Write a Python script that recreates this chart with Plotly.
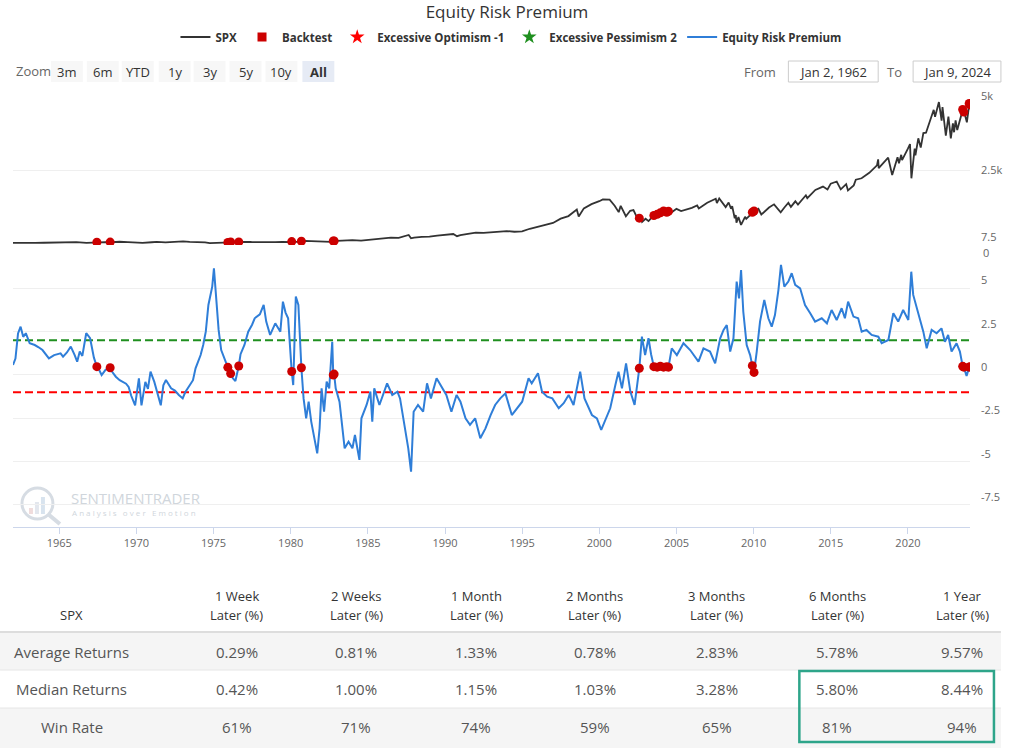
import plotly.graph_objects as go

# ---------------- canvas / plot-area geometry ----------------
W, H = 1014, 748
ML, MR, MT, MB = 13, 42, 96, 221
PW = W - ML - MR
PH = H - MT - MB
SPLIT_PX = 245  # pixel row where the two panels meet


def px(x):
    return (x - ML) / PW


def py(y):
    return (H - MB - y) / PH


FONT = "Open Sans"

# ---------------- data ----------------
title_text = "Equity Risk Premium"
x_start, x_end = "1962-01-02", "2024-01-09"
year_ticks = [1965, 1970, 1975, 1980, 1985, 1990, 1995, 2000, 2005, 2010, 2015, 2020]

spx_dates = [
    "1962-01-02", "1962-03-15", "1962-06-26", "1962-09-15", "1962-12-31", "1963-06-15", "1963-12-31",
    "1964-06-15", "1964-12-31", "1965-06-28", "1965-12-31", "1966-02-09", "1966-10-07", "1966-12-30",
    "1967-06-15", "1967-09-25", "1967-12-29", "1968-03-05", "1968-11-29", "1969-06-15", "1969-12-31",
    "1970-05-26", "1970-12-31", "1971-04-28", "1971-11-23", "1972-06-15", "1973-01-11", "1973-06-15",
    "1973-12-31", "1974-06-15", "1974-10-03", "1974-12-31", "1975-07-15", "1975-12-31", "1976-06-15",
    "1976-12-31", "1977-06-15", "1977-12-30", "1978-03-06", "1978-09-12", "1978-12-29", "1979-06-15",
    "1979-12-31", "1980-03-27", "1980-11-28", "1981-06-15", "1981-09-25", "1981-12-31", "1982-08-12",
    "1982-12-31", "1983-10-10", "1983-12-30", "1984-07-24", "1984-12-31", "1985-06-28", "1985-12-31",
    "1986-06-30", "1986-12-31", "1987-08-25", "1987-10-19", "1987-12-31", "1988-06-30", "1988-12-30",
    "1989-06-30", "1989-12-29", "1990-07-16", "1990-10-11", "1990-12-31", "1991-06-28", "1991-12-31",
    "1992-06-30", "1992-12-31", "1993-06-30", "1993-12-31", "1994-06-30", "1994-12-30", "1995-06-30",
    "1995-12-29", "1996-06-28", "1996-12-31", "1997-06-30", "1997-12-31", "1998-07-17", "1998-08-31",
    "1998-12-31", "1999-06-30", "1999-12-31", "2000-03-24", "2000-09-01", "2000-12-29", "2001-04-04",
    "2001-05-21", "2001-09-21", "2001-12-31", "2002-03-19", "2002-07-23", "2002-08-22", "2002-10-09",
    "2002-12-31", "2003-03-11", "2003-06-30", "2003-12-31", "2004-06-30", "2004-08-12", "2004-12-31",
    "2005-04-20", "2005-12-30", "2006-05-05", "2006-06-13", "2006-12-29", "2007-07-19", "2007-08-15",
    "2007-10-09", "2008-03-10", "2008-05-19", "2008-07-15", "2008-08-11", "2008-10-10", "2008-11-04",
    "2008-11-20", "2009-01-06", "2009-03-09", "2009-06-12", "2009-07-10", "2009-12-31", "2010-04-23",
    "2010-07-02", "2010-12-31", "2011-04-29", "2011-10-03", "2011-12-30", "2012-04-02", "2012-06-01",
    "2012-09-14", "2012-11-15", "2013-05-21", "2013-06-24", "2013-12-31", "2014-06-30", "2014-10-15",
    "2014-12-31", "2015-05-21", "2015-08-25", "2015-12-31", "2016-02-11", "2016-06-27", "2016-08-15",
    "2016-12-30", "2017-06-30", "2017-12-29", "2018-01-26", "2018-02-08", "2018-09-20", "2018-12-24",
    "2019-04-30", "2019-06-03", "2019-07-26", "2019-08-15", "2019-12-31", "2020-02-19", "2020-03-23",
    "2020-06-08", "2020-06-26", "2020-09-02", "2020-10-30", "2020-12-31", "2021-03-04", "2021-06-30",
    "2021-09-02", "2021-10-04", "2021-12-31", "2022-01-03", "2022-03-08", "2022-03-29", "2022-06-16",
    "2022-08-16", "2022-10-12", "2022-11-30", "2022-12-28", "2023-02-02", "2023-03-13", "2023-07-31",
    "2023-10-27", "2023-12-28", "2024-01-05", "2024-01-09",
]
spx_values = [
    70.9, 70.0, 52.3, 58.0, 63.1, 69.0, 75.0,
    81.0, 84.8, 81.6, 92.4, 94.0, 73.2, 80.3,
    91.0, 97.6, 96.5, 87.7, 108.4, 98.0, 92.0,
    69.3, 92.2, 104.8, 90.2, 107.0, 120.2, 104.0,
    97.6, 86.0, 62.3, 68.6, 95.6, 90.2, 104.0,
    107.5, 100.0, 95.1, 86.9, 106.9, 96.1, 102.0,
    107.9, 98.2, 140.5, 132.0, 112.8, 122.6, 102.4,
    140.6, 172.7, 164.9, 147.8, 167.2, 191.9, 211.3,
    250.8, 242.2, 336.8, 224.8, 247.1, 273.5, 277.7,
    318.0, 353.4, 368.9, 295.5, 330.2, 371.2, 417.1,
    408.1, 435.7, 450.5, 466.5, 444.3, 459.3, 544.8,
    615.9, 670.6, 740.7, 885.1, 970.4, 1186.8, 957.3,
    1229.2, 1372.7, 1469.3, 1527.5, 1520.8, 1320.3, 1103.3,
    1312.8, 965.8, 1148.1, 1170.3, 797.7, 962.7, 776.8,
    879.8, 800.7, 974.5, 1111.9, 1140.8, 1063.2, 1211.9,
    1137.5, 1248.3, 1325.8, 1223.7, 1418.3, 1553.1, 1406.7,
    1565.2, 1273.4, 1426.6, 1214.9, 1305.3, 899.2, 1005.8,
    752.4, 934.7, 676.5, 946.2, 879.1, 1115.1, 1217.3,
    1022.6, 1257.6, 1363.6, 1099.2, 1257.6, 1419.0, 1278.0,
    1465.8, 1353.3, 1669.2, 1573.1, 1848.4, 1960.2, 1862.5,
    2058.9, 2130.8, 1867.6, 2043.9, 1829.1, 2000.5, 2190.2,
    2238.8, 2423.4, 2673.6, 2872.9, 2581.0, 2930.8, 2351.1,
    2945.8, 2744.5, 3025.9, 2847.6, 3230.8, 3386.2, 2237.4,
    3232.4, 3009.0, 3580.8, 3270.0, 3756.1, 3768.5, 4297.5,
    4536.9, 4300.5, 4766.2, 4796.6, 4170.7, 4631.6, 3666.8,
    4305.2, 3577.0, 4080.1, 3783.2, 4179.8, 3855.8, 4589.0,
    4117.4, 4783.4, 4697.2, 4756.5,
]

erp_dates = [
    "1962-01-02", "1962-03-01", "1962-05-01", "1962-07-01", "1962-09-01", "1962-11-01", "1963-02-01",
    "1963-06-01", "1963-09-01", "1963-12-01", "1964-05-01", "1964-09-01", "1965-02-01", "1965-04-01",
    "1965-07-01", "1965-10-01", "1966-01-01", "1966-03-01", "1966-05-01", "1966-07-01", "1966-10-01",
    "1967-01-01", "1967-04-01", "1967-06-10", "1967-08-01", "1967-10-01", "1968-01-01", "1968-04-20",
    "1968-06-01", "1968-09-01", "1968-12-01", "1969-02-01", "1969-05-01", "1969-07-01", "1969-09-01",
    "1969-12-01", "1970-03-01", "1970-05-01", "1970-08-01", "1970-10-01", "1970-12-01", "1971-03-01",
    "1971-05-01", "1971-08-01", "1971-10-01", "1971-12-01", "1972-04-01", "1972-07-01", "1972-10-01",
    "1973-01-01", "1973-03-01", "1973-07-01", "1973-09-01", "1973-11-01", "1974-03-01", "1974-05-01",
    "1974-07-01", "1974-09-01", "1974-12-01", "1975-01-10", "1975-02-01", "1975-03-01", "1975-05-01",
    "1975-07-01", "1975-09-01", "1975-12-05", "1976-02-10", "1976-04-01", "1976-06-01", "1976-08-20",
    "1976-10-01", "1977-01-01", "1977-04-01", "1977-07-01", "1977-09-01", "1978-01-01", "1978-04-01",
    "1978-06-01", "1978-09-01", "1979-01-01", "1979-05-01", "1979-07-01", "1979-09-01", "1979-11-01",
    "1980-01-25", "1980-03-01", "1980-05-01", "1980-07-01", "1980-09-10", "1980-11-01", "1981-01-01",
    "1981-03-01", "1981-05-01", "1981-07-01", "1981-09-20", "1981-11-15", "1982-01-01", "1982-03-01",
    "1982-05-01", "1982-07-01", "1982-09-10", "1982-10-05", "1982-10-25", "1982-12-01", "1983-03-01",
    "1983-07-01", "1983-10-01", "1984-01-01", "1984-03-01", "1984-06-15", "1984-08-01", "1984-12-01",
    "1985-03-01", "1985-04-15", "1985-06-01", "1985-10-01", "1986-04-01", "1986-08-01", "1986-12-01",
    "1987-02-01", "1987-06-01", "1987-08-15", "1987-10-20", "1987-12-20", "1988-04-01", "1988-08-01",
    "1988-11-01", "1989-02-01", "1989-06-15", "1989-10-01", "1990-02-01", "1990-06-01", "1990-10-01",
    "1991-01-01", "1991-05-01", "1991-08-15", "1991-12-15", "1992-04-15", "1992-08-15", "1992-12-15",
    "1993-04-01", "1993-08-01", "1993-12-01", "1994-05-01", "1994-09-01", "1995-01-01", "1995-06-01",
    "1995-08-15", "1996-01-10", "1996-04-15", "1996-08-15", "1996-12-15", "1997-05-15", "1997-09-10",
    "1998-01-05", "1998-05-01", "1998-10-05", "1999-01-15", "1999-07-10", "1999-11-05", "2000-02-15",
    "2000-05-20", "2000-09-15", "2001-01-15", "2001-03-30", "2001-06-20", "2001-09-25", "2002-01-05",
    "2002-04-15", "2002-08-05", "2002-10-05", "2002-12-20", "2003-03-10", "2003-05-10", "2003-07-15",
    "2003-10-01", "2003-12-15", "2004-03-01", "2004-05-15", "2004-06-25", "2004-09-10", "2005-01-10",
    "2005-06-15", "2005-11-20", "2006-06-05", "2006-10-01", "2007-03-05", "2007-07-05", "2007-11-01",
    "2008-01-20", "2008-04-05", "2008-06-25", "2008-09-10", "2008-11-25", "2009-01-20", "2009-03-09",
    "2009-05-01", "2009-07-20", "2009-10-10", "2009-12-01", "2010-01-10", "2010-03-15", "2010-06-01",
    "2010-09-10", "2010-12-15", "2011-03-05", "2011-05-20", "2011-08-10", "2011-10-10", "2011-12-28",
    "2012-04-01", "2012-06-20", "2012-09-10", "2013-01-05", "2013-05-01", "2013-09-01", "2013-12-25",
    "2014-06-01", "2014-10-01", "2015-01-20", "2015-05-20", "2015-09-15", "2015-12-01", "2016-02-15",
    "2016-06-20", "2016-10-10", "2017-01-01", "2017-04-25", "2017-08-25", "2018-01-30", "2018-04-20",
    "2018-09-25", "2019-01-20", "2019-05-15", "2019-09-10", "2020-01-10", "2020-03-20", "2020-05-05",
    "2020-09-01", "2020-12-30", "2021-03-20", "2021-07-15", "2021-11-10", "2022-03-05", "2022-05-25",
    "2022-08-10", "2022-10-30", "2023-02-25", "2023-05-15", "2023-07-20", "2023-08-15", "2023-10-20",
    "2023-12-20", "2024-01-09",
]
erp_values = [
    0.58, 0.95, 2.40, 2.79, 2.20, 2.41, 1.83,
    1.73, 1.60, 1.44, 0.96, 1.15, 1.25, 1.06,
    1.30, 1.64, 1.15, 0.77, 1.35, 1.10, 2.41,
    2.12, 1.00, 0.48, 0.30, 0.00, 0.30, 0.42,
    0.20, -0.10, -0.30, -0.40, -0.50, -0.69, -1.20,
    -1.75, -0.19, -1.75, -0.40, -0.80, 0.19, -0.40,
    -0.90, -1.75, -0.60, -0.29, -0.77, -0.90, -1.15,
    -1.35, -1.00, -0.58, -0.30, 0.38, 1.15, 1.73,
    2.50, 4.04, 5.10, 6.15, 5.50, 4.90, 2.60,
    1.44, 1.00, 0.44, 0.08, -0.19, -0.35, 0.52,
    1.20, 1.73, 2.50, 2.90, 3.27, 3.50, 4.04,
    3.08, 2.31, 2.98, 2.50, 4.23, 3.60, 3.27,
    0.20, -0.58, 4.52, 4.04, 0.42, -1.35, -2.50,
    -1.54, -2.69, -3.46, -4.52, -3.08, -0.77, -2.12,
    -0.38, -0.77, 1.92, 0.00, 0.05, -0.77, -1.54,
    -4.23, -3.85, -4.23, -3.46, -4.90, -2.50, -1.73,
    -0.96, -2.69, -0.77, -1.73, -0.48, -1.15, -0.96,
    -1.35, -3.27, -4.23, -5.58, -2.12, -1.73, -2.12,
    -0.48, -1.35, -0.19, -0.67, -1.15, -2.12, -1.15,
    -1.54, -2.50, -2.88, -2.50, -3.65, -3.08, -2.31,
    -1.73, -1.35, -1.06, -2.31, -1.92, -1.54, -0.19,
    -0.48, 0.10, -0.96, -1.25, -1.35, -1.92, -1.63,
    -1.15, -1.73, 0.19, -1.35, -2.31, -2.50, -3.17,
    -2.60, -1.92, -0.58, 0.19, -0.77, 0.67, -0.96,
    -1.73, 0.39, 2.21, 1.15, 2.12, 1.20, 0.48,
    0.45, 0.50, 0.45, 0.48, 0.45, 1.54, 1.15,
    1.83, 1.44, 0.77, 1.54, 1.35, 0.67, 2.12,
    2.60, 2.88, 1.35, 2.12, 5.39, 4.42, 6.06,
    3.65, 1.73, 1.15, 0.54, 0.15, 1.35, 3.08,
    4.33, 3.27, 2.79, 3.46, 4.90, 6.35, 5.10,
    5.39, 5.87, 5.20, 5.00, 4.04, 3.56, 3.08,
    3.27, 2.98, 3.75, 3.17, 3.85, 3.27, 4.23,
    3.37, 3.27, 2.50, 2.60, 2.31, 2.21, 1.83,
    2.02, 3.56, 3.08, 3.75, 3.17, 5.96, 4.62,
    3.56, 2.50, 1.54, 2.60, 2.41, 2.69, 1.92,
    2.31, 1.35, 1.83, 1.35, 0.50, 0.45, -0.06,
    0.45, 0.48,
]

backtest_dates = [
    "1967-06-10", "1968-04-20", "1975-12-05", "1976-02-10", "1976-08-20", "1980-01-25", "1980-09-10",
    "1982-10-05", "1982-10-25", "2002-08-05", "2003-07-15", "2003-10-01", "2003-12-15", "2004-03-01",
    "2004-05-15", "2004-06-25", "2009-12-01", "2010-01-10", "2023-07-20", "2023-08-15", "2023-12-20",
    "2024-01-05",
]
backtest_spx = [
    91, 97, 88, 100, 104, 114, 125,
    134, 136, 900, 990, 1030, 1080, 1140,
    1100, 1130, 1100, 1140, 4550, 4460, 4750,
    4700,
]
backtest_erp = [
    0.48, 0.42, 0.44, 0.08, 0.52, 0.20, 0.42,
    0.00, 0.05, 0.39, 0.48, 0.45, 0.50, 0.45,
    0.48, 0.45, 0.54, 0.15, 0.50, 0.45, 0.45,
    0.48,
]

optimism_level = -1
pessimism_level = 2

spx_tick_vals = [2500, 5000]
spx_tick_text = ["2.5k", "5k"]
spx_zero_text = "0"
erp_tick_vals = [-7.5, -5, -2.5, 0, 2.5, 5, 7.5]
erp_tick_text = ["-7.5", "-5", "-2.5", "0", "2.5", "5", "7.5"]

zoom_buttons = ["3m", "6m", "YTD", "1y", "3y", "5y", "10y", "All"]
from_label, from_value = "From", "Jan 2, 1962"
to_label, to_value = "To", "Jan 9, 2024"

table_corner = "SPX"
table_periods = ["1 Week", "2 Weeks", "1 Month", "2 Months", "3 Months", "6 Months", "1 Year"]
table_sub = "Later (%)"
row_labels = ["Average Returns", "Median Returns", "Win Rate"]
avg_returns = ["0.29%", "0.81%", "1.33%", "0.78%", "2.83%", "5.78%", "9.57%"]
median_returns = ["0.42%", "1.00%", "1.15%", "1.03%", "3.28%", "5.80%", "8.44%"]
win_rate = ["61%", "71%", "74%", "59%", "65%", "81%", "94%"]

# ---------------- colours ----------------
C_SPX = "#333333"
C_ERP = "#2f7ed8"
C_DOT = "#cc0000"
C_OPT = "#ff0000"
C_PES = "#1f8f1f"
C_GRID = "#efefef"
C_TICK = "#666666"
C_TXT = "#333333"

fig = go.Figure()

# threshold lines (lower panel)
fig.add_trace(go.Scatter(x=[x_start, x_end], y=[optimism_level, optimism_level], mode="lines",
                         line=dict(color=C_OPT, width=2, dash="8px,4px"), xaxis="x", yaxis="y2",
                         showlegend=False, hoverinfo="skip"))
fig.add_trace(go.Scatter(x=[x_start, x_end], y=[pessimism_level, pessimism_level], mode="lines",
                         line=dict(color=C_PES, width=2, dash="8px,4px"), xaxis="x", yaxis="y2",
                         showlegend=False, hoverinfo="skip"))

# SPX (upper panel)
fig.add_trace(go.Scatter(x=spx_dates, y=spx_values, mode="lines", name="SPX",
                         line=dict(color=C_SPX, width=1.8), xaxis="x", yaxis="y"))
# legend-only entries
fig.add_trace(go.Scatter(x=[None], y=[None], mode="markers", name="Backtest",
                         marker=dict(symbol="square", size=9, color=C_DOT), xaxis="x", yaxis="y"))
fig.add_trace(go.Scatter(x=[None], y=[None], mode="markers", name="Excessive Optimism -1",
                         marker=dict(symbol="star", size=11, color=C_OPT), xaxis="x", yaxis="y"))
fig.add_trace(go.Scatter(x=[None], y=[None], mode="markers", name="Excessive Pessimism 2",
                         marker=dict(symbol="star", size=11, color=C_PES), xaxis="x", yaxis="y"))
# ERP (lower panel)
fig.add_trace(go.Scatter(x=erp_dates, y=erp_values, mode="lines", name="Equity Risk Premium",
                         line=dict(color=C_ERP, width=2), xaxis="x", yaxis="y2"))
# backtest dots on both panels
fig.add_trace(go.Scatter(x=backtest_dates, y=backtest_spx, mode="markers", showlegend=False,
                         marker=dict(size=9, color=C_DOT), xaxis="x", yaxis="y"))
fig.add_trace(go.Scatter(x=backtest_dates, y=backtest_erp, mode="markers", showlegend=False,
                         marker=dict(size=9, color=C_DOT), xaxis="x", yaxis="y2"))

split = py(SPLIT_PX)
lower_top = 7.5
lower_bottom = lower_top - (H - MB - SPLIT_PX) / (43.33 / 2.5)

shapes = []
annotations = []

# ---- range selector look-alike ----
annotations.append(dict(text="Zoom", x=px(14), y=py(71), xref="paper", yref="paper", xanchor="left",
                        yanchor="middle", showarrow=False, font=dict(family=FONT, size=13, color=C_TICK)))
btn_centers = [67, 103, 138, 175, 210, 246, 282, 319]
for lab, cx in zip(zoom_buttons, btn_centers):
    sel = lab == "All"
    shapes.append(dict(type="rect", xref="paper", yref="paper", x0=px(cx - 16), x1=px(cx + 16),
                       y0=py(82), y1=py(61), fillcolor="#e6ebf5" if sel else "#f7f7f7",
                       line=dict(width=0), layer="below"))
    annotations.append(dict(text=f"<b>{lab}</b>" if sel else lab, x=px(cx), y=py(71.5), xref="paper",
                            yref="paper", xanchor="center", yanchor="middle", showarrow=False,
                            font=dict(family=FONT, size=13, color=C_TXT)))

annotations.append(dict(text=from_label, x=px(780), y=py(71.5), xref="paper", yref="paper", xanchor="right",
                        yanchor="middle", showarrow=False, font=dict(family=FONT, size=13, color=C_TICK)))
annotations.append(dict(text=to_label, x=px(906), y=py(71.5), xref="paper", yref="paper", xanchor="right",
                        yanchor="middle", showarrow=False, font=dict(family=FONT, size=13, color=C_TICK)))
for (x0, x1, txt) in [(790, 880, from_value), (915, 1003, to_value)]:
    shapes.append(dict(type="rect", xref="paper", yref="paper", x0=px(x0), x1=px(x1), y0=py(82), y1=py(61),
                       fillcolor="white", line=dict(color="#cccccc", width=1)))
    annotations.append(dict(text=txt, x=px((x0 + x1) / 2), y=py(71.5), xref="paper", yref="paper",
                            xanchor="center", yanchor="middle", showarrow=False,
                            font=dict(family=FONT, size=13, color=C_TXT)))

# ---- upper axis zero label (nudged below the lower axis' 7.5 label) ----
annotations.append(dict(text=spx_zero_text, x=1, xshift=11, y=0, yshift=-7, xref="paper", yref="y",
                        xanchor="left", yanchor="middle", showarrow=False,
                        font=dict(family=FONT, size=11, color=C_TICK)))

# ---- watermark ----
wm = "#d6dce3"
shapes.append(dict(type="circle", xref="paper", yref="paper", x0=px(22), x1=px(53), y0=py(519), y1=py(488),
                   line=dict(color=wm, width=3), layer="below"))
for (bx, top, col) in [(29, 508, "#f0dcdc"), (35, 502, "#e3e7ee"), (41, 497, "#d8e3ee")]:
    shapes.append(dict(type="rect", xref="paper", yref="paper", x0=px(bx), x1=px(bx + 4), y0=py(514),
                       y1=py(top), fillcolor=col, line=dict(width=0), layer="below"))
shapes.append(dict(type="line", xref="paper", yref="paper", x0=px(48), x1=px(60), y0=py(514), y1=py(524),
                   line=dict(color=wm, width=4), layer="below"))
annotations.append(dict(text="SENTIMENTRADER", x=px(69), y=py(498), xref="paper", yref="paper",
                        xanchor="left", yanchor="middle", showarrow=False,
                        font=dict(family=FONT, size=15, color="#d0d6dc")))
annotations.append(dict(text="A n a l y s i s   o v e r   E m o t i o n", x=px(70), y=py(512.5),
                        xref="paper", yref="paper", xanchor="left", yanchor="middle", showarrow=False,
                        font=dict(family=FONT, size=8, color="#d0d6dc")))

# ---- statistics table ----
col_x = [237, 357, 477, 596, 718, 839, 964]
label_x = 72
row_y = [652, 689, 727]
row_bands = [(633, 670, "#f5f5f5"), (670, 708, "#ffffff"), (708, 748, "#f5f5f5")]
for (y0, y1, col) in row_bands:
    shapes.append(dict(type="rect", xref="paper", yref="paper", x0=px(0), x1=px(1003), y0=py(y1), y1=py(y0),
                       fillcolor=col, line=dict(width=0), layer="below"))
shapes.append(dict(type="line", xref="paper", yref="paper", x0=px(0), x1=px(1003), y0=py(632), y1=py(632),
                   line=dict(color="#dddddd", width=2)))
for yy in (670, 708):
    shapes.append(dict(type="line", xref="paper", yref="paper", x0=px(0), x1=px(1003), y0=py(yy), y1=py(yy),
                       line=dict(color="#e6e6e6", width=1)))

tf_head = dict(family=FONT, size=13, color=C_TXT)
tf_body = dict(family=FONT, size=15, color="#555555")
annotations.append(dict(text=table_corner, x=px(label_x), y=py(615), xref="paper", yref="paper",
                        xanchor="center", yanchor="middle", showarrow=False, font=tf_head))
for cx, head in zip(col_x, table_periods):
    annotations.append(dict(text=head, x=px(cx), y=py(596), xref="paper", yref="paper", xanchor="center",
                            yanchor="middle", showarrow=False, font=tf_head))
    annotations.append(dict(text=table_sub, x=px(cx), y=py(615), xref="paper", yref="paper", xanchor="center",
                            yanchor="middle", showarrow=False, font=tf_head))
for ry, lab, vals in zip(row_y, row_labels, [avg_returns, median_returns, win_rate]):
    annotations.append(dict(text=lab, x=px(label_x), y=py(ry), xref="paper", yref="paper", xanchor="center",
                            yanchor="middle", showarrow=False, font=tf_body))
    for cx, v in zip(col_x, vals):
        annotations.append(dict(text=v, x=px(cx), y=py(ry), xref="paper", yref="paper", xanchor="center",
                                yanchor="middle", showarrow=False, font=tf_body))
# highlight box
shapes.append(dict(type="rect", xref="paper", yref="paper", x0=px(801), x1=px(996), y0=py(742), y1=py(671),
                   line=dict(color="#2ea58a", width=2.5), fillcolor="rgba(0,0,0,0)"))

fig.update_layout(
    width=W, height=H,
    margin=dict(l=ML, r=MR, t=MT, b=MB, pad=0),
    paper_bgcolor="white", plot_bgcolor="white",
    font=dict(family=FONT, color=C_TXT),
    title=dict(text=title_text, x=0.5, xanchor="center", y=1 - 12 / H, yanchor="middle",
               font=dict(family=FONT, size=17, color=C_TXT)),
    showlegend=True,
    legend=dict(orientation="h", x=px(512), xanchor="center", y=py(37), yanchor="middle",
                font=dict(family=FONT, size=11.5, color=C_TXT, weight="bold"), itemwidth=30,
                bgcolor="rgba(0,0,0,0)"),
    xaxis=dict(type="date", range=[x_start, x_end], domain=[0, 1], anchor="y2",
               tickvals=[f"{y}-01-01" for y in year_ticks], ticktext=[str(y) for y in year_ticks],
               showgrid=False, showline=True, linecolor="#ccd6eb", linewidth=1,
               ticks="outside", ticklen=6, tickcolor="#ccd6eb", zeroline=False,
               tickfont=dict(family=FONT, size=11, color=C_TICK)),
    yaxis=dict(domain=[split, 1], range=[0, 5000], side="right", anchor="x",
               tickvals=[0] + spx_tick_vals, ticktext=[""] + spx_tick_text, showgrid=True, gridcolor=C_GRID,
               zeroline=False, showline=False, ticks="", ticklabelstandoff=10,
               tickfont=dict(family=FONT, size=11, color=C_TICK)),
    yaxis2=dict(domain=[0, split], range=[lower_bottom, lower_top], side="right", anchor="x",
                tickvals=erp_tick_vals, ticktext=erp_tick_text,
                showgrid=True, gridcolor=C_GRID, zeroline=False, showline=False, ticks="",
                ticklabelstandoff=10, ticklabelposition="outside top",
                tickfont=dict(family=FONT, size=11, color=C_TICK)),
    shapes=shapes,
    annotations=annotations,
    hovermode="x",
)

fig.write_html("out.html")
